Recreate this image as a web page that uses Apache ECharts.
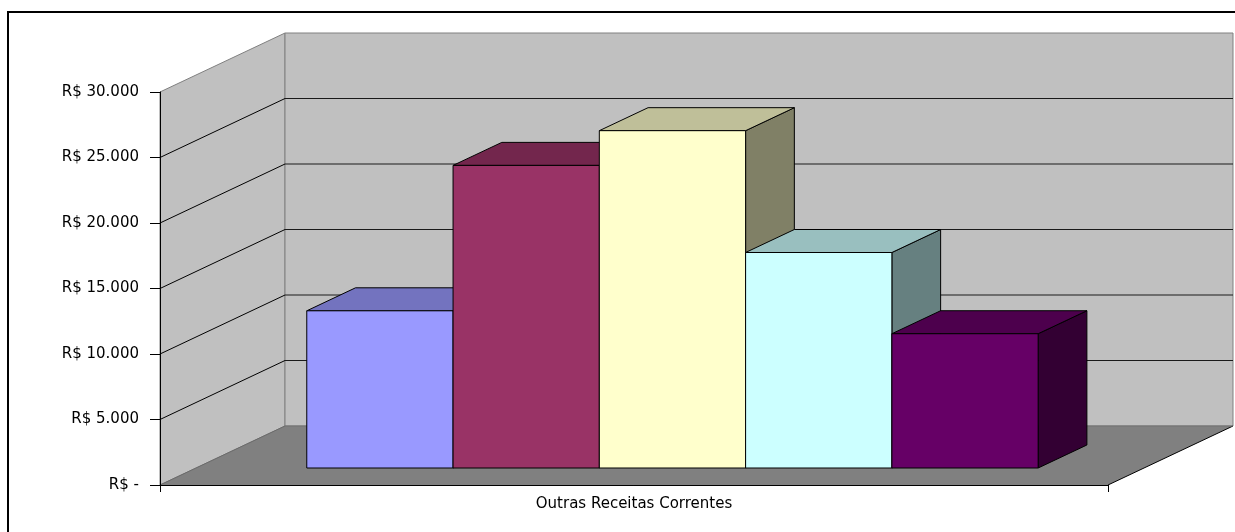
<!DOCTYPE html>
<html>
<head>
<meta charset="utf-8">
<script src="https://cdn.jsdelivr.net/npm/echarts@6/dist/echarts.min.js"></script>
<style>
html, body { margin: 0; padding: 0; background: #fff; }
#chart { width: 1235px; height: 532px; }
</style>
</head>
<body>
<div id="chart"></div>
<script>
// data
const categories = ['Outras Receitas Correntes'];
const seriesValues = [12000, 23100, 25750, 16450, 10250];
const barColors = ['#9999FF', '#993366', '#FFFFCC', '#CCFFFF', '#660066'];
const yTicks = [0, 5000, 10000, 15000, 20000, 25000, 30000];
const yTickLabels = ['R$ -', 'R$ 5.000', 'R$ 10.000', 'R$ 15.000', 'R$ 20.000', 'R$ 25.000', 'R$ 30.000'];

// fake 3d look (oblique projection, excel style)
const DEPTH = [125, -59];      // full floor depth in px
const BAR_FRONT = 0.288;       // bar front plane, fraction of depth
const BAR_BACK = 0.678;        // bar back plane
const BAR_W = 0.1543;          // bar width as part of the category band
const BAR_SHIFT = 0.0026;      // bars sit a bit right of the band centre

function shade(hex, k) {
    const n = parseInt(hex.slice(1), 16);
    const r = Math.round(((n >> 16) & 255) * k);
    const g = Math.round(((n >> 8) & 255) * k);
    const b = Math.round((n & 255) * k);
    return 'rgb(' + r + ',' + g + ',' + b + ')';
}

function line(x1, y1, x2, y2, color) {
    return { type: 'line', shape: { x1, y1, x2, y2 }, style: { stroke: color, lineWidth: 1 }, silent: true };
}

function renderWalls(params, api) {
    const catW = api.size([1, 0])[0];
    const c0 = api.coord([0, yTicks[0]]);
    const L = c0[0] - catW / 2, R = c0[0] + catW / 2;
    const yBot = c0[1];
    const yTop = api.coord([0, yTicks[yTicks.length - 1]])[1];
    const dx = DEPTH[0], dy = DEPTH[1];
    const children = [
        { type: 'polygon', shape: { points: [[L, yTop], [L + dx, yTop + dy], [L + dx, yBot + dy], [L, yBot]] },
          style: { fill: '#C0C0C0', stroke: '#808080', lineWidth: 1 } },
        { type: 'rect', shape: { x: L + dx, y: yTop + dy, width: R - L, height: yBot - yTop },
          style: { fill: '#C0C0C0', stroke: '#808080', lineWidth: 1 } },
        { type: 'polygon', shape: { points: [[L, yBot], [L + dx, yBot + dy], [R + dx, yBot + dy], [R, yBot]] },
          style: { fill: '#808080' } },
        line(L, yBot, L + dx, yBot + dy, '#6a6a6a'),
        line(R, yBot, R + dx, yBot + dy, '#000'),
        line(L + dx, yBot + dy, R + dx, yBot + dy, '#707070')
    ];
    yTicks.slice(1, -1).forEach(t => {
        const y = api.coord([0, t])[1];
        children.push(line(L, y, L + dx, y + dy, '#000'));
        children.push(line(L + dx, y + dy, R + dx, y + dy, '#1a1a1a'));
    });
    return { type: 'group', children };
}

function renderBar(params, api) {
    const v = api.value(1);
    const i = api.value(2);
    const catW = api.size([1, 0])[0];
    const c0 = api.coord([0, 0]);
    const yTopV = api.coord([0, v])[1];
    const bw = catW * BAR_W;
    const total = bw * seriesValues.length;
    const fx = DEPTH[0] * BAR_FRONT, fy = DEPTH[1] * BAR_FRONT;
    const ddx = DEPTH[0] * (BAR_BACK - BAR_FRONT), ddy = DEPTH[1] * (BAR_BACK - BAR_FRONT);
    const x0 = c0[0] + catW * BAR_SHIFT - total / 2 + i * bw + fx;
    const x1 = x0 + bw;
    const yb = c0[1] + fy;
    const yt = yTopV + fy;
    const col = barColors[i];
    const st = { stroke: '#000', lineWidth: 1, lineJoin: 'round' };
    return {
        type: 'group',
        children: [
            { type: 'polygon', shape: { points: [[x1, yt], [x1 + ddx, yt + ddy], [x1 + ddx, yb + ddy], [x1, yb]] },
              style: Object.assign({ fill: shade(col, 0.5) }, st) },
            { type: 'polygon', shape: { points: [[x0, yt], [x1, yt], [x1 + ddx, yt + ddy], [x0 + ddx, yt + ddy]] },
              style: Object.assign({ fill: shade(col, 0.75) }, st) },
            { type: 'rect', shape: { x: x0, y: yt, width: bw, height: yb - yt },
              style: Object.assign({ fill: col }, st) }
        ]
    };
}

const chart = echarts.init(document.getElementById('chart'));

const option = {
    animation: false,
    backgroundColor: '#fff',
    textStyle: { fontFamily: 'DejaVu Sans' },
    graphic: [
        { type: 'rect', z: 0, shape: { x: 8, y: 12, width: 1240, height: 540 },
          style: { fill: 'none', stroke: '#000', lineWidth: 2 }, silent: true }
    ],
    grid: { left: 160, right: 127, top: 92, bottom: 47 },
    xAxis: {
        type: 'category',
        data: categories,
        z: 10,
        axisLine: { lineStyle: { color: '#000', width: 1 } },
        axisTick: { show: true, length: 7, lineStyle: { color: '#000' } },
        axisLabel: { color: '#000', fontSize: 15, margin: 12, fontFamily: 'DejaVu Sans' },
        splitLine: { show: false }
    },
    yAxis: {
        type: 'value',
        min: 0,
        max: 30000,
        interval: 5000,
        z: 10,
        axisLine: { show: true, lineStyle: { color: '#000', width: 1 } },
        axisTick: { show: true, length: 10, lineStyle: { color: '#000' } },
        axisLabel: {
            color: '#000', fontSize: 15, margin: 21, fontFamily: 'DejaVu Sans',
            formatter: v => yTickLabels[yTicks.indexOf(v)]
        },
        splitLine: { show: false }
    },
    series: [
        {
            type: 'custom',
            z: 1,
            silent: true,
            renderItem: renderWalls,
            data: [[0, 0]]
        },
        {
            type: 'custom',
            z: 2,
            renderItem: renderBar,
            encode: { x: 0, y: 1 },
            data: seriesValues.map((v, i) => [0, v, i])
        }
    ]
};

chart.setOption(option);
</script>
</body>
</html>
